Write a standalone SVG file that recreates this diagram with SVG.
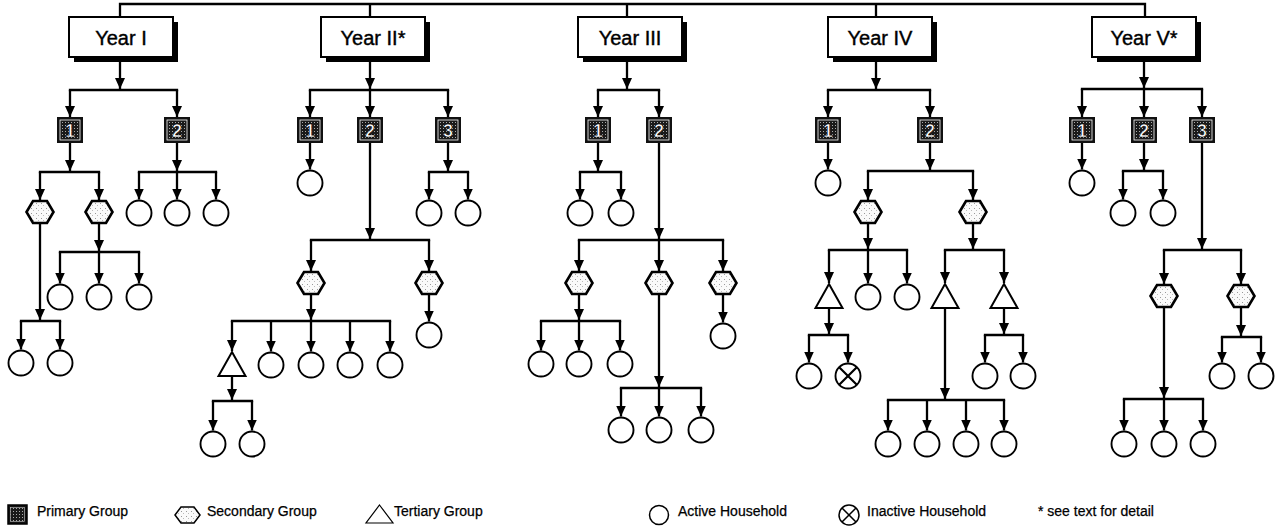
<svg xmlns="http://www.w3.org/2000/svg" xmlns:xlink="http://www.w3.org/1999/xlink" width="1284" height="527" viewBox="0 0 1284 527">
<style>
.ln{stroke:#000;stroke-width:2.3;fill:none}
.bar{stroke:#000;stroke-width:2.3;fill:none;stroke-linecap:square}
.ar{stroke:#000;stroke-width:2.3;fill:none;marker-end:url(#ah)}
.yb{fill:#fff;stroke:#000;stroke-width:2}
.ys{fill:#000}
.yt{font-family:"Liberation Sans",Arial,sans-serif;font-size:20px;fill:#000;stroke:#000;stroke-width:0.4;text-anchor:middle}
.pn{font-family:"Liberation Sans",Arial,sans-serif;font-size:18px;font-weight:bold;fill:#fff;stroke:#000;stroke-width:0.6;text-anchor:middle}
.lg{font-family:"Liberation Sans",Arial,sans-serif;font-size:14px;fill:#000;stroke:#000;stroke-width:0.25}
</style>
<defs>
<marker id="ah" viewBox="0 0 11 10" refX="11" refY="5" markerWidth="11" markerHeight="10" markerUnits="userSpaceOnUse" orient="auto">
<path d="M0,0 L11,5 L0,10 z" fill="#000"/>
</marker>
<pattern id="priTex" width="3" height="3" patternUnits="userSpaceOnUse">
<rect width="3" height="3" fill="#1a1a1a"/>
<rect x="1" y="1" width="1" height="1" fill="#aaa"/>
</pattern>
<pattern id="secTex" width="5" height="5" patternUnits="userSpaceOnUse">
<rect width="5" height="5" fill="#fafafa"/>
<rect x="1" y="1" width="1" height="1" fill="#999"/>
<rect x="3" y="3" width="1" height="1" fill="#bbb"/>
</pattern>
<polygon id="hexShape" points="-13.5,0 -7,-11 7,-11 13.5,0 7,11 -7,11" fill="url(#secTex)" stroke="#000" stroke-width="2.6" stroke-linejoin="miter"/>
<circle id="hh" r="12.5" fill="#fff" stroke="#000" stroke-width="1.9"/>
<polygon id="triShape" points="0,-12 13.5,12 -13.5,12" fill="#fff" stroke="#000" stroke-width="2"/>
<g id="priShape">
<rect x="-13" y="-13" width="26" height="26" fill="#111"/>
<rect x="-10" y="-10" width="20" height="20" fill="url(#priTex)" stroke="#fff" stroke-width="0.8"/>
</g>
<g id="xhh">
<circle r="12.5" fill="#fff" stroke="#000" stroke-width="1.9"/>
<path d="M-8.8,-8.8 L8.8,8.8 M-8.8,8.8 L8.8,-8.8" stroke="#000" stroke-width="2.2"/>
</g>
</defs>
<rect width="1284" height="527" fill="#fff"/>

<g id="connectors">
<path class="ln" d="M120,17 V4 H1145 V17"/>
<path class="ln" d="M370,4 V17 M627,4 V17 M876,4 V17"/>

<line class="ar" x1="120" y1="57" x2="120" y2="89"/>
<line class="bar" x1="70" y1="90" x2="177" y2="90"/>
<line class="ar" x1="70" y1="90" x2="70" y2="117"/>
<line class="ar" x1="177" y1="90" x2="177" y2="117"/>
<line class="ar" x1="70" y1="143" x2="70" y2="171"/>
<line class="bar" x1="40" y1="172" x2="99" y2="172"/>
<line class="ar" x1="40" y1="172" x2="40" y2="200"/>
<line class="ar" x1="99" y1="172" x2="99" y2="200"/>
<line class="ar" x1="177" y1="143" x2="177" y2="171"/>
<line class="bar" x1="139" y1="172" x2="216" y2="172"/>
<line class="ar" x1="139" y1="172" x2="139" y2="199.5"/>
<line class="ar" x1="177" y1="172" x2="177" y2="199.5"/>
<line class="ar" x1="216" y1="172" x2="216" y2="199.5"/>
<line class="ar" x1="40" y1="223" x2="40" y2="320"/>
<line class="bar" x1="21" y1="321" x2="60" y2="321"/>
<line class="ar" x1="21" y1="321" x2="21" y2="349.5"/>
<line class="ar" x1="60" y1="321" x2="60" y2="349.5"/>
<line class="ar" x1="99" y1="223" x2="99" y2="251"/>
<line class="bar" x1="60" y1="252" x2="139" y2="252"/>
<line class="ar" x1="60" y1="252" x2="60" y2="283.5"/>
<line class="ar" x1="99" y1="252" x2="99" y2="283.5"/>
<line class="ar" x1="139" y1="252" x2="139" y2="283.5"/>

<line class="ar" x1="370" y1="57" x2="370" y2="89"/>
<line class="bar" x1="310" y1="90" x2="448" y2="90"/>
<line class="ar" x1="310" y1="90" x2="310" y2="117"/>
<line class="ar" x1="370" y1="90" x2="370" y2="117"/>
<line class="ar" x1="448" y1="90" x2="448" y2="117"/>
<line class="ar" x1="310" y1="143" x2="310" y2="169.5"/>
<line class="ar" x1="448" y1="143" x2="448" y2="171"/>
<line class="bar" x1="429" y1="172" x2="468" y2="172"/>
<line class="ar" x1="429" y1="172" x2="429" y2="199.5"/>
<line class="ar" x1="468" y1="172" x2="468" y2="199.5"/>
<line class="ar" x1="370" y1="143" x2="370" y2="239"/>
<line class="bar" x1="311" y1="240" x2="429" y2="240"/>
<line class="ar" x1="311" y1="240" x2="311" y2="271"/>
<line class="ar" x1="429" y1="240" x2="429" y2="271"/>
<line class="ar" x1="311" y1="294" x2="311" y2="320"/>
<line class="bar" x1="232" y1="321" x2="390" y2="321"/>
<line class="ar" x1="232" y1="321" x2="232" y2="351"/>
<line class="ar" x1="271" y1="321" x2="271" y2="351.5"/>
<line class="ar" x1="311" y1="321" x2="311" y2="351.5"/>
<line class="ar" x1="350" y1="321" x2="350" y2="351.5"/>
<line class="ar" x1="390" y1="321" x2="390" y2="351.5"/>
<line class="ar" x1="232" y1="376" x2="232" y2="400"/>
<line class="bar" x1="213" y1="401" x2="252" y2="401"/>
<line class="ar" x1="213" y1="401" x2="213" y2="430.5"/>
<line class="ar" x1="252" y1="401" x2="252" y2="430.5"/>
<line class="ar" x1="429" y1="294" x2="429" y2="321.5"/>

<line class="ar" x1="627" y1="57" x2="627" y2="89"/>
<line class="bar" x1="598" y1="90" x2="659" y2="90"/>
<line class="ar" x1="598" y1="90" x2="598" y2="117"/>
<line class="ar" x1="659" y1="90" x2="659" y2="117"/>
<line class="ar" x1="598" y1="143" x2="598" y2="171"/>
<line class="bar" x1="580" y1="172" x2="621" y2="172"/>
<line class="ar" x1="580" y1="172" x2="580" y2="199.5"/>
<line class="ar" x1="621" y1="172" x2="621" y2="199.5"/>
<line class="ar" x1="659" y1="143" x2="659" y2="239"/>
<line class="bar" x1="579" y1="240" x2="723" y2="240"/>
<line class="ar" x1="579" y1="240" x2="579" y2="271"/>
<line class="ar" x1="659" y1="240" x2="659" y2="271"/>
<line class="ar" x1="723" y1="240" x2="723" y2="271"/>
<line class="ar" x1="579" y1="294" x2="579" y2="320"/>
<line class="bar" x1="541" y1="321" x2="620" y2="321"/>
<line class="ar" x1="541" y1="321" x2="541" y2="350.5"/>
<line class="ar" x1="579" y1="321" x2="579" y2="350.5"/>
<line class="ar" x1="620" y1="321" x2="620" y2="350.5"/>
<line class="ar" x1="659" y1="294" x2="659" y2="387"/>
<line class="bar" x1="621" y1="388" x2="701" y2="388"/>
<line class="ar" x1="621" y1="388" x2="621" y2="416.5"/>
<line class="ar" x1="659" y1="388" x2="659" y2="416.5"/>
<line class="ar" x1="701" y1="388" x2="701" y2="416.5"/>
<line class="ar" x1="723" y1="294" x2="723" y2="322.5"/>

<line class="ar" x1="876" y1="57" x2="876" y2="89"/>
<line class="bar" x1="828" y1="90" x2="930" y2="90"/>
<line class="ar" x1="828" y1="90" x2="828" y2="117"/>
<line class="ar" x1="930" y1="90" x2="930" y2="117"/>
<line class="ar" x1="828" y1="143" x2="828" y2="169.5"/>
<line class="ar" x1="930" y1="143" x2="930" y2="170"/>
<line class="bar" x1="868" y1="171" x2="973" y2="171"/>
<line class="ar" x1="868" y1="171" x2="868" y2="200"/>
<line class="ar" x1="973" y1="171" x2="973" y2="200"/>
<line class="ar" x1="868" y1="223" x2="868" y2="249"/>
<line class="bar" x1="829" y1="250" x2="907" y2="250"/>
<line class="ar" x1="829" y1="250" x2="829" y2="283"/>
<line class="ar" x1="868" y1="250" x2="868" y2="283.5"/>
<line class="ar" x1="907" y1="250" x2="907" y2="283.5"/>
<line class="ar" x1="973" y1="223" x2="973" y2="249"/>
<line class="bar" x1="945" y1="250" x2="1004" y2="250"/>
<line class="ar" x1="945" y1="250" x2="945" y2="283"/>
<line class="ar" x1="1004" y1="250" x2="1004" y2="283"/>
<line class="ar" x1="829" y1="308" x2="829" y2="334"/>
<line class="bar" x1="809" y1="335" x2="848" y2="335"/>
<line class="ar" x1="809" y1="335" x2="809" y2="362.5"/>
<line class="ar" x1="848" y1="335" x2="848" y2="362.5"/>
<line class="ar" x1="945" y1="308" x2="945" y2="399"/>
<line class="bar" x1="888" y1="400" x2="1004" y2="400"/>
<line class="ar" x1="888" y1="400" x2="888" y2="430.5"/>
<line class="ar" x1="927" y1="400" x2="927" y2="430.5"/>
<line class="ar" x1="966" y1="400" x2="966" y2="430.5"/>
<line class="ar" x1="1004" y1="400" x2="1004" y2="430.5"/>
<line class="ar" x1="1004" y1="308" x2="1004" y2="334"/>
<line class="bar" x1="985" y1="335" x2="1023" y2="335"/>
<line class="ar" x1="985" y1="335" x2="985" y2="362.5"/>
<line class="ar" x1="1023" y1="335" x2="1023" y2="362.5"/>

<line class="ar" x1="1144" y1="57" x2="1144" y2="88"/>
<line class="bar" x1="1082" y1="89" x2="1202" y2="89"/>
<line class="ar" x1="1082" y1="89" x2="1082" y2="117"/>
<line class="ar" x1="1144" y1="89" x2="1144" y2="117"/>
<line class="ar" x1="1202" y1="89" x2="1202" y2="117"/>
<line class="ar" x1="1082" y1="143" x2="1082" y2="169.5"/>
<line class="ar" x1="1144" y1="143" x2="1144" y2="170"/>
<line class="bar" x1="1123" y1="171" x2="1163" y2="171"/>
<line class="ar" x1="1123" y1="171" x2="1123" y2="199.5"/>
<line class="ar" x1="1163" y1="171" x2="1163" y2="199.5"/>
<line class="ar" x1="1202" y1="143" x2="1202" y2="249"/>
<line class="bar" x1="1164" y1="250" x2="1241" y2="250"/>
<line class="ar" x1="1164" y1="250" x2="1164" y2="284"/>
<line class="ar" x1="1241" y1="250" x2="1241" y2="284"/>
<line class="ar" x1="1164" y1="307" x2="1164" y2="398"/>
<line class="bar" x1="1124" y1="399" x2="1203" y2="399"/>
<line class="ar" x1="1124" y1="399" x2="1124" y2="430.5"/>
<line class="ar" x1="1164" y1="399" x2="1164" y2="430.5"/>
<line class="ar" x1="1203" y1="399" x2="1203" y2="430.5"/>
<line class="ar" x1="1241" y1="307" x2="1241" y2="336"/>
<line class="bar" x1="1222" y1="337" x2="1261" y2="337"/>
<line class="ar" x1="1222" y1="337" x2="1222" y2="362.5"/>
<line class="ar" x1="1261" y1="337" x2="1261" y2="362.5"/>
</g>

<g id="year1"><rect class="ys" x="74" y="22" width="104" height="40"/><rect class="yb" x="69" y="17" width="104" height="40"/><text class="yt" x="121" y="45">Year I</text></g>
<g id="year2"><rect class="ys" x="326" y="22" width="104" height="40"/><rect class="yb" x="321" y="17" width="104" height="40"/><text class="yt" x="373" y="45">Year II*</text></g>
<g id="year3"><rect class="ys" x="583" y="22" width="104" height="40"/><rect class="yb" x="578" y="17" width="104" height="40"/><text class="yt" x="630" y="45">Year III</text></g>
<g id="year4"><rect class="ys" x="833" y="22" width="104" height="40"/><rect class="yb" x="828" y="17" width="104" height="40"/><text class="yt" x="880" y="45">Year IV</text></g>
<g id="year5"><rect class="ys" x="1097" y="22" width="104" height="40"/><rect class="yb" x="1092" y="17" width="104" height="40"/><text class="yt" x="1144" y="45">Year V*</text></g>

<g id="y1p1"><use href="#priShape" x="70" y="130"/><text class="pn" x="70" y="136.5">1</text></g>
<g id="y1p2"><use href="#priShape" x="177" y="130"/><text class="pn" x="177" y="136.5">2</text></g>
<g id="y2p1"><use href="#priShape" x="310" y="130"/><text class="pn" x="310" y="136.5">1</text></g>
<g id="y2p2"><use href="#priShape" x="370" y="130"/><text class="pn" x="370" y="136.5">2</text></g>
<g id="y2p3"><use href="#priShape" x="448" y="130"/><text class="pn" x="448" y="136.5">3</text></g>
<g id="y3p1"><use href="#priShape" x="598" y="130"/><text class="pn" x="598" y="136.5">1</text></g>
<g id="y3p2"><use href="#priShape" x="659" y="130"/><text class="pn" x="659" y="136.5">2</text></g>
<g id="y4p1"><use href="#priShape" x="828" y="130"/><text class="pn" x="828" y="136.5">1</text></g>
<g id="y4p2"><use href="#priShape" x="930" y="130"/><text class="pn" x="930" y="136.5">2</text></g>
<g id="y5p1"><use href="#priShape" x="1082" y="130"/><text class="pn" x="1082" y="136.5">1</text></g>
<g id="y5p2"><use href="#priShape" x="1144" y="130"/><text class="pn" x="1144" y="136.5">2</text></g>
<g id="y5p3"><use href="#priShape" x="1202" y="130"/><text class="pn" x="1202" y="136.5">3</text></g>

<g id="y1s1"><use href="#hexShape" x="40" y="212"/></g>
<g id="y1s2"><use href="#hexShape" x="99" y="212"/></g>
<g id="y2s1"><use href="#hexShape" x="311" y="283"/></g>
<g id="y2s2"><use href="#hexShape" x="429" y="283"/></g>
<g id="y3s1"><use href="#hexShape" x="579" y="283"/></g>
<g id="y3s2"><use href="#hexShape" x="659" y="283"/></g>
<g id="y3s3"><use href="#hexShape" x="723" y="283"/></g>
<g id="y4s1"><use href="#hexShape" x="868" y="212"/></g>
<g id="y4s2"><use href="#hexShape" x="973" y="212"/></g>
<g id="y5s1"><use href="#hexShape" x="1164" y="296"/></g>
<g id="y5s2"><use href="#hexShape" x="1241" y="296"/></g>

<g id="y2t1"><use href="#triShape" x="232" y="364"/></g>
<g id="y4t1"><use href="#triShape" x="829" y="296"/></g>
<g id="y4t2"><use href="#triShape" x="945" y="296"/></g>
<g id="y4t3"><use href="#triShape" x="1004" y="296"/></g>

<g id="households">
<g id="h1"><use href="#hh" x="139" y="213"/></g>
<g id="h2"><use href="#hh" x="177" y="213"/></g>
<g id="h3"><use href="#hh" x="216" y="213"/></g>
<g id="h4"><use href="#hh" x="60" y="297"/></g>
<g id="h5"><use href="#hh" x="99" y="297"/></g>
<g id="h6"><use href="#hh" x="139" y="297"/></g>
<g id="h7"><use href="#hh" x="21" y="363"/></g>
<g id="h8"><use href="#hh" x="60" y="363"/></g>
<g id="h9"><use href="#hh" x="310" y="183"/></g>
<g id="h10"><use href="#hh" x="429" y="213"/></g>
<g id="h11"><use href="#hh" x="468" y="213"/></g>
<g id="h12"><use href="#hh" x="271" y="365"/></g>
<g id="h13"><use href="#hh" x="311" y="365"/></g>
<g id="h14"><use href="#hh" x="350" y="365"/></g>
<g id="h15"><use href="#hh" x="390" y="365"/></g>
<g id="h16"><use href="#hh" x="213" y="444"/></g>
<g id="h17"><use href="#hh" x="252" y="444"/></g>
<g id="h18"><use href="#hh" x="429" y="335"/></g>
<g id="h19"><use href="#hh" x="580" y="213"/></g>
<g id="h20"><use href="#hh" x="621" y="213"/></g>
<g id="h21"><use href="#hh" x="541" y="364"/></g>
<g id="h22"><use href="#hh" x="579" y="364"/></g>
<g id="h23"><use href="#hh" x="620" y="364"/></g>
<g id="h24"><use href="#hh" x="621" y="430"/></g>
<g id="h25"><use href="#hh" x="659" y="430"/></g>
<g id="h26"><use href="#hh" x="701" y="430"/></g>
<g id="h27"><use href="#hh" x="723" y="336"/></g>
<g id="h28"><use href="#hh" x="828" y="183"/></g>
<g id="h29"><use href="#hh" x="868" y="297"/></g>
<g id="h30"><use href="#hh" x="907" y="297"/></g>
<g id="h31"><use href="#hh" x="809" y="376"/></g>
<g id="h32"><use href="#xhh" x="848" y="376"/></g>
<g id="h33"><use href="#hh" x="888" y="444"/></g>
<g id="h34"><use href="#hh" x="927" y="444"/></g>
<g id="h35"><use href="#hh" x="966" y="444"/></g>
<g id="h36"><use href="#hh" x="1004" y="444"/></g>
<g id="h37"><use href="#hh" x="985" y="376"/></g>
<g id="h38"><use href="#hh" x="1023" y="376"/></g>
<g id="h39"><use href="#hh" x="1082" y="183"/></g>
<g id="h40"><use href="#hh" x="1123" y="213"/></g>
<g id="h41"><use href="#hh" x="1163" y="213"/></g>
<g id="h42"><use href="#hh" x="1124" y="444"/></g>
<g id="h43"><use href="#hh" x="1164" y="444"/></g>
<g id="h44"><use href="#hh" x="1203" y="444"/></g>
<g id="h45"><use href="#hh" x="1222" y="376"/></g>
<g id="h46"><use href="#hh" x="1261" y="376"/></g>
</g>

<g id="legend">
<g id="lg-primary">
<rect x="8" y="505" width="19" height="19" fill="#111" stroke="#000" stroke-width="1.5"/>
<rect x="10.5" y="507.5" width="14" height="14" fill="url(#priTex)" stroke="#ccc" stroke-width="0.6"/>
<text class="lg" x="37" y="516">Primary Group</text>
</g>
<g id="lg-secondary">
<polygon points="175,515 181,507 194,507 200,515 194,523 181,523" fill="url(#secTex)" stroke="#000" stroke-width="1.5"/>
<text class="lg" x="207" y="516">Secondary Group</text>
</g>
<g id="lg-tertiary">
<polygon points="379.5,505 393,523 366,523" fill="#fff" stroke="#000" stroke-width="1.2"/>
<text class="lg" x="394" y="516">Tertiary Group</text>
</g>
<g id="lg-active">
<circle cx="659" cy="515" r="9.5" fill="#fff" stroke="#000" stroke-width="1.5"/>
<text class="lg" x="678" y="516">Active Household</text>
</g>
<g id="lg-inactive">
<circle cx="849" cy="515" r="10" fill="#fff" stroke="#000" stroke-width="1.5"/>
<path d="M842,508 L856,522 M842,522 L856,508" stroke="#000" stroke-width="1.5"/>
<text class="lg" x="867" y="516">Inactive Household</text>
</g>
<g id="lg-note">
<text class="lg" x="1038" y="516">* see text for detail</text>
</g>
</g>
</svg>
